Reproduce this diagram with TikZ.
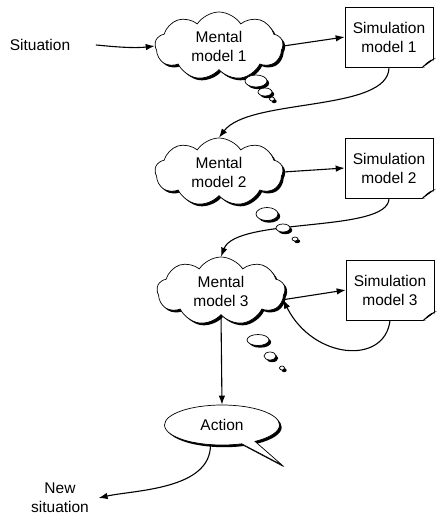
\documentclass[tikz,border=0pt]{standalone}
\usepackage{fontspec}
\setmainfont{Liberation Sans}
\usetikzlibrary{shapes.symbols,shapes.callouts,shapes.geometric,shadows,arrows.meta,positioning}
\tikzset{>={Latex[length=9pt,width=6.5pt]}, % big filled arrow heads
every node/.style={font=\fontsize{15.5}{19}\selectfont}, % sans text everywhere
shade/.style={drop shadow={shadow xshift=2.2pt, shadow yshift=-2.2pt, opacity=1, fill=black}}, % hard black shadow
thinshade/.style={drop shadow={shadow xshift=1pt, shadow yshift=-1pt, opacity=1, fill=black}},
mental/.style={cloud, cloud puffs=9, cloud puff arc=115, aspect=1.8, draw, fill=white, align=center, minimum width=128pt, minimum height=68pt, inner sep=0pt, shade},
simbox/.style={draw, fill=white, align=center, minimum width=88pt, minimum height=60pt, thinshade},
bubble/.style={ellipse, draw, fill=white, inner sep=0pt, shade},
link/.style={->, line width=1.1pt},
}
% folded corner of a simulation box
\newcommand\simfold[1]{
\fill[white] ([xshift=-11pt]#1.south east) -- ([xshift=2pt,yshift=-2pt]#1.south east) -- ([yshift=8pt]#1.south east) -- cycle;
\filldraw ([xshift=-11pt]#1.south east) .. controls +(5pt,4pt) .. ([yshift=8pt]#1.south east) .. controls +(-4pt,-1pt) and +(3pt,3pt) .. cycle;}

\begin{document}
\begin{tikzpicture}[x=1pt, y=-1pt, line width=0.7pt]
\useasboundingbox (0,0) rectangle (437,520);
\node (sit) at (40,45) {Situation};
\node[mental] (mm1) at (219,46) {Mental\\model 1};
\node[simbox] (sim1) at (389,37) {Simulation\\model 1};
\node[mental] (mm2) at (219,172) {Mental\\model 2};
\node[simbox] (sim2) at (389,168) {Simulation\\model 2};
\node[mental] (mm3) at (221,291) {Mental\\model 3};
\node[simbox] (sim3) at (390,290) {Simulation\\model 3};
\simfold{sim1}
\simfold{sim2}
\simfold{sim3}
\node[ellipse callout, draw, fill=white, minimum width=115pt, minimum height=40pt, callout absolute pointer={(282,465)}, shade] (act) at (222,425) {Action};
\node[align=center] (new) at (60,498) {New\\situation};
% thought bubbles
\node[bubble, minimum width=22pt, minimum height=12pt] (b11) at (256,81) {};
\node[bubble, minimum width=14pt, minimum height=8pt] (b12) at (265,92) {};
\node[bubble, minimum width=5pt, minimum height=4pt] (b13) at (272,99) {};
\node[bubble, minimum width=22pt, minimum height=13pt] (b21) at (267,214) {};
\node[bubble, minimum width=6pt, minimum height=4pt] (b23) at (295,239) {};
\node[bubble, minimum width=22pt, minimum height=11pt] (b31) at (258,340) {};
\node[bubble, minimum width=12pt, minimum height=8pt] (b32) at (270,356) {};
\node[bubble, minimum width=5pt, minimum height=4pt] (b33) at (282,368) {};
% connectors
\draw[link, shorten <=22pt] (sit.east) .. controls +(25,0) and +(-25,3) .. (mm1.west);
\draw[link] (mm1.east) -- (sim1.west);
\draw[link] (sim1.south) .. controls +(0,45) and +(30,-40) .. (mm2.north);
\draw[link] (mm2.east) -- (sim2.west);
\draw[link] (sim2.south) .. controls +(0,35) and +(15,-40) .. (mm3.north);
\node[bubble, minimum width=14pt, minimum height=8pt] (b22) at (283,228) {};
\draw[link] (mm3.-8) -- (sim3.west);
\draw[link] (sim3.south) .. controls +(-5,45) and +(30,60) .. (mm3.-8);
\draw[link] (mm3.south) -- (act.north);
\draw[link] (act.-120) .. controls +(0,45) and +(35,-8) .. ([xshift=6pt]new.east);
\end{tikzpicture}
\end{document}
